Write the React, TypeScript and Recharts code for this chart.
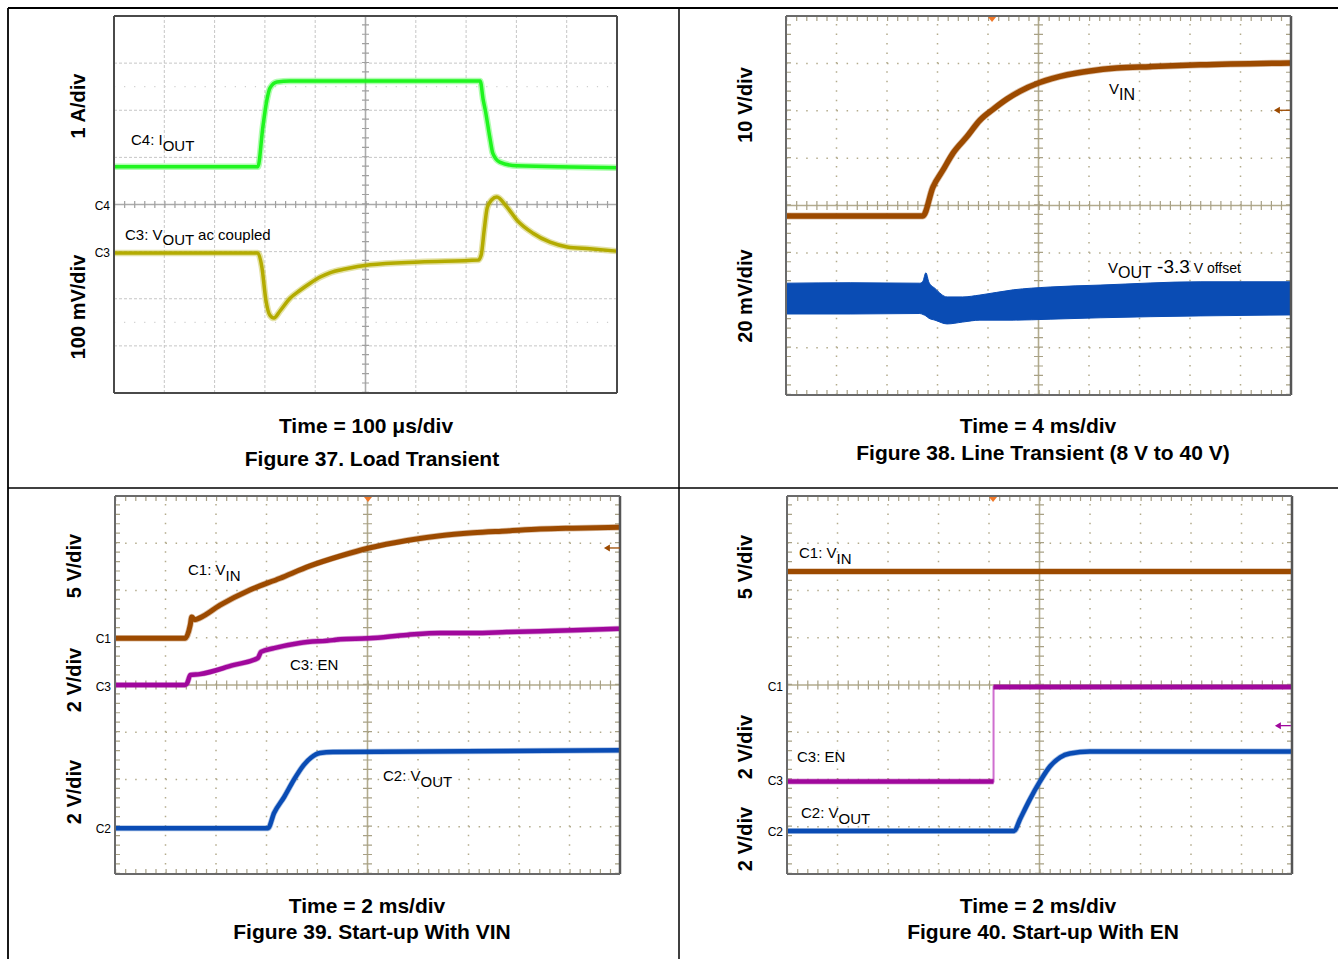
import React from 'react';
import { ComposedChart, Line, Area, XAxis, YAxis, ReferenceLine, ReferenceDot } from 'recharts';

// All traces: x in horizontal divisions (0..10), y in vertical divisions (-4..4, 0 = screen centre)

// ---------- Figure 37: Load Transient ----------
const f37IoutT = [0, 2.86, 2.96, 3.04, 3.10, 3.24, 3.50, 7.28, 7.34, 7.38, 7.48, 7.53, 7.67, 8.01, 10];
const f37IoutV = [0.80, 0.80, 1.65, 2.22, 2.47, 2.60, 2.62, 2.62, 2.22, 2.01, 1.37, 1.09, 0.90, 0.82, 0.78];
const f37VoutT = [0, 2.86, 2.94, 3.02, 3.10, 3.18, 3.30, 3.50, 3.70, 3.90, 4.10, 4.29, 4.59, 5.09, 6.08, 7.24, 7.30, 7.36, 7.42, 7.51, 7.61, 7.81, 8.01, 8.33, 8.67, 9.01, 9.46, 10];
const f37VoutV = [-1.03, -1.03, -1.33, -2.03, -2.35, -2.41, -2.26, -1.99, -1.82, -1.67, -1.54, -1.45, -1.37, -1.28, -1.22, -1.18, -1.07, -0.54, -0.07, 0.10, 0.16, -0.05, -0.33, -0.61, -0.80, -0.90, -0.94, -0.99];

// ---------- Figure 38: Line Transient ----------
const f38VinT = [0, 2.71, 2.91, 3.11, 3.31, 3.58, 3.84, 4.10, 4.38, 4.63, 5.01, 5.57, 6.02, 6.55, 7.21, 8.20, 10];
const f38VinV = [-0.22, -0.22, 0.39, 0.75, 1.11, 1.45, 1.80, 2.03, 2.25, 2.41, 2.59, 2.76, 2.84, 2.90, 2.93, 2.97, 3.01];
const f38VoutT = [0, 1.27, 2.65, 2.71, 2.77, 2.83, 2.95, 3.19, 3.50, 3.84, 4.50, 5.23, 6.22, 8.20, 10];
const f38VoutLo = [-2.29, -2.29, -2.28, -2.30, -2.33, -2.38, -2.42, -2.50, -2.46, -2.42, -2.42, -2.40, -2.37, -2.33, -2.31];
const f38VoutHi = [-1.64, -1.63, -1.64, -1.60, -1.42, -1.62, -1.75, -1.93, -1.93, -1.89, -1.78, -1.72, -1.68, -1.61, -1.61];

// ---------- Figure 39: Start-up With VIN ----------
const f39VinT = [0, 1.39, 1.49, 1.52, 1.58, 1.68, 2.08, 2.67, 3.27, 3.86, 4.46, 5.03, 5.78, 6.44, 7.09, 7.76, 8.42, 9.07, 10];
const f39VinV = [0.99, 0.99, 1.27, 1.44, 1.38, 1.42, 1.69, 2.01, 2.26, 2.52, 2.73, 2.90, 3.06, 3.16, 3.22, 3.26, 3.30, 3.32, 3.34];
const f39EnT = [0, 1.39, 1.43, 1.49, 1.68, 2.34, 2.83, 2.89, 3.15, 3.66, 4.32, 4.46, 5.03, 5.78, 6.44, 7.09, 7.76, 8.42, 9.07, 10];
const f39EnV = [0.00, 0.00, 0.04, 0.21, 0.23, 0.42, 0.57, 0.70, 0.78, 0.89, 0.95, 0.97, 0.99, 1.06, 1.10, 1.10, 1.12, 1.14, 1.16, 1.19];
const f39VoutT = [0, 3.03, 3.15, 3.35, 3.54, 3.74, 3.88, 4.06, 4.32, 10];
const f39VoutV = [-3.03, -3.03, -2.71, -2.37, -2.01, -1.69, -1.54, -1.44, -1.42, -1.38];

// ---------- Figure 40: Start-up With EN ----------
const f40VinT = [0, 10];
const f40VinV = [2.40, 2.40];
const f40EnT = [0, 4.09, 4.09, 10];
const f40EnV = [-2.04, -2.04, -0.04, -0.04];
const f40VoutT = [0, 4.50, 4.61, 4.81, 5.01, 5.21, 5.41, 5.60, 6.00, 10];
const f40VoutV = [-3.09, -3.09, -2.85, -2.42, -2.04, -1.72, -1.53, -1.45, -1.41, -1.41];

// ---------- colours ----------
const GREEN = '#1ff51f';
const OLIVE = '#b3ab00';
const BROWN = '#9c4a00';
const BLUE = '#0a4cb4';
const PURPLE = '#a0089c';
const PURPLE_LIGHT = '#cf6fcf';
const ORANGE = '#f07828';

type Pt = { t: number; v: number };
const zip = (t: number[], v: number[]): Pt[] => t.map((x, i) => ({ t: x, v: v[i] }));
const zipBand = (t: number[], lo: number[], hi: number[]) => t.map((x, i) => ({ t: x, band: [lo[i], hi[i]] }));
const splitAtVertical = (pts: Pt[]): Pt[][] => {
  const out: Pt[][] = [[]];
  pts.forEach((p, i) => {
    if (i > 0 && p.t === pts[i - 1].t) out.push([]);
    out[out.length - 1].push(p);
  });
  return out;
};

const PAD = 10;
const FONT = '"Liberation Sans", Arial, Helvetica, sans-serif';

function scopeFrame(w: number, h: number, tek: boolean) {
  const pxX = w / 10, pxY = h / 8;
  const dx = (p: number) => p / pxX;
  const dy = (p: number) => p / pxY;
  const gridColor = tek ? '#b3ab8c' : '#c6c6c6';
  const axisColor = tek ? '#b2ab8e' : '#ababab';
  const tickColor = tek ? '#a8a185' : '#a0a0a0';
  const divX = [1, 2, 3, 4, 6, 7, 8, 9];
  const divY = [-3, -2, -1, 1, 2, 3];
  const els: React.ReactNode[] = [];
  divX.forEach((x) =>
    els.push(<ReferenceLine key={'gx' + x} x={x} stroke={gridColor} strokeWidth={tek ? 1.5 : 1}
      strokeDasharray={tek ? `1.5 ${pxY / 5 - 1.5}` : '3 2'} />)
  );
  divY.forEach((y) =>
    els.push(<ReferenceLine key={'gy' + y} y={y} stroke={gridColor} strokeWidth={tek ? 1.5 : 1}
      strokeDasharray={tek ? `1.5 ${pxX / 5 - 1.5}` : '3 2'} />)
  );
  if (!tek) {
    [-2.5, 2.5].forEach((y) =>
      els.push(<ReferenceLine key={'q' + y} y={y} stroke="#cfcfcf" strokeWidth={1.2} strokeDasharray={`1.2 ${pxX / 5 - 1.2}`} />)
    );
  }
  els.push(<ReferenceLine key="cx" x={5} stroke={axisColor} strokeWidth={1.6} />);
  els.push(<ReferenceLine key="cy" y={0} stroke={axisColor} strokeWidth={1.6} />);
  const tl = tek ? 9 : 7;
  els.push(<ReferenceLine key="cxt" x={5} stroke={tickColor} strokeWidth={tl} strokeDasharray={`1.2 ${pxY / 5 - 1.2}`} />);
  els.push(<ReferenceLine key="cyt" y={0} stroke={tickColor} strokeWidth={tl} strokeDasharray={`1.2 ${pxX / 5 - 1.2}`} />);
  if (tek) {
    els.push(<ReferenceLine key="bt" y={4 - dy(2.5)} stroke={tickColor} strokeWidth={5} strokeDasharray={`1.2 ${pxX / 5 - 1.2}`} />);
    els.push(<ReferenceLine key="bb" y={-4 + dy(2.5)} stroke={tickColor} strokeWidth={5} strokeDasharray={`1.2 ${pxX / 5 - 1.2}`} />);
    els.push(<ReferenceLine key="bl" x={dx(2.5)} stroke={tickColor} strokeWidth={5} strokeDasharray={`1.2 ${pxY / 5 - 1.2}`} />);
    els.push(<ReferenceLine key="br" x={10 - dx(2.5)} stroke={tickColor} strokeWidth={5} strokeDasharray={`1.2 ${pxY / 5 - 1.2}`} />);
  }
  return els;
}

function borderLines(tek: boolean) {
  const c = tek ? '#6a6a6a' : '#4a4a4a';
  return [
    <ReferenceLine key="b1" x={0} stroke={c} strokeWidth={2} />,
    <ReferenceLine key="b2" x={10} stroke={tek ? '#555' : c} strokeWidth={tek ? 2.5 : 2} />,
    <ReferenceLine key="b3" y={4} stroke={c} strokeWidth={2} />,
    <ReferenceLine key="b4" y={-4} stroke={c} strokeWidth={2} />,
  ];
}

type ScopeProps = { left: number; top: number; w: number; h: number; tek: boolean; children?: React.ReactNode; extras?: React.ReactNode[] };

function Scope({ left, top, w, h, tek, children, extras }: ScopeProps) {
  const box: React.CSSProperties = { position: 'absolute', left: left - PAD, top: top - PAD };
  const axes = [
    <XAxis key="x" type="number" dataKey="t" domain={[0, 10]} hide allowDataOverflow />,
    <YAxis key="y" type="number" domain={[-4, 4]} hide allowDataOverflow />,
  ];
  const m = { top: PAD, right: PAD, bottom: PAD, left: PAD };
  return (
    <>
      <div style={box}>
        <ComposedChart width={w + 2 * PAD} height={h + 2 * PAD} margin={m}>
          {axes}
          {scopeFrame(w, h, tek)}
        </ComposedChart>
      </div>
      <div style={box}>
        <ComposedChart width={w + 2 * PAD} height={h + 2 * PAD} margin={m}>
          {axes}
          {children}
          {borderLines(tek)}
          {extras}
        </ComposedChart>
      </div>
    </>
  );
}

const trace = (key: string, data: Pt[], color: string, width: number, fuzz = 0, curve: any = 'monotone') => [
  fuzz > 0 ? (
    <Line key={key + 'f'} data={data} dataKey="v" type={curve} stroke={color} strokeOpacity={0.35}
      strokeWidth={width + fuzz} dot={false} activeDot={false} isAnimationActive={false} strokeLinejoin="round" />
  ) : null,
  <Line key={key} data={data} dataKey="v" type={curve} stroke={color} strokeWidth={width}
    dot={false} activeDot={false} isAnimationActive={false} strokeLinejoin="round" />,
];

const trigShape = (p: any) => (
  <path d={`M${p.cx - 4},${p.cy + 1} L${p.cx + 4},${p.cy + 1} L${p.cx},${p.cy + 6} Z`} fill={ORANGE} />
);
const arrowShape = (color: string) => (p: any) => (
  <g>
    <path d={`M${p.cx - 5},${p.cy} L${p.cx + 1},${p.cy - 3.5} L${p.cx + 1},${p.cy + 3.5} Z`} fill={color} />
    <line x1={p.cx} y1={p.cy} x2={p.cx + 11} y2={p.cy} stroke={color} strokeWidth={1.3} />
  </g>
);

function Txt({ x, y, size = 15, bold = false, anchor = 'start', children }: any) {
  return (
    <text x={x} y={y} fontSize={size} fontWeight={bold ? 'bold' : 'normal'} textAnchor={anchor} fontFamily={FONT} fill="#000">
      {children}
    </text>
  );
}
function VTxt({ x, y, children }: any) {
  return (
    <text transform={`translate(${x},${y}) rotate(-90)`} fontSize={20} fontWeight="bold" textAnchor="middle"
      dominantBaseline="central" fontFamily={FONT} fill="#000">
      {children}
    </text>
  );
}

export default function App() {
  const f40En = zip(f40EnT, f40EnV);
  return (
    <div style={{ position: 'absolute', left: 0, top: 0, width: 1338, height: 959, background: '#fff' }}>
      {/* Figure 37 */}
      <Scope left={114} top={16} w={503} h={377} tek={false}>
        {trace('io', zip(f37IoutT, f37IoutV), GREEN, 3.5, 3)}
        {trace('vo', zip(f37VoutT, f37VoutV), OLIVE, 3.5, 3)}
      </Scope>

      {/* Figure 38 */}
      <Scope left={786} top={16} w={505} h={379} tek={true}
        extras={[
          <ReferenceDot key="trg" x={4.08} y={4} r={0} shape={trigShape} />,
          <ReferenceDot key="lvl" x={9.76} y={2.01} r={0} shape={arrowShape(BROWN)} />,
        ]}>
        <Area key="band" data={zipBand(f38VoutT, f38VoutLo, f38VoutHi)} dataKey="band" type="monotone"
          stroke={BLUE} strokeWidth={1} fill={BLUE} fillOpacity={1} dot={false} activeDot={false} isAnimationActive={false} />
        {trace('vin', zip(f38VinT, f38VinV), BROWN, 5.5, 1.5)}
      </Scope>

      {/* Figure 39 */}
      <Scope left={115} top={496} w={505} h={378} tek={true}
        extras={[
          <ReferenceDot key="trg" x={5.01} y={4} r={0} shape={trigShape} />,
          <ReferenceDot key="lvl" x={9.78} y={2.9} r={0} shape={arrowShape(BROWN)} />,
        ]}>
        {trace('vin', zip(f39VinT, f39VinV), BROWN, 5, 1.5)}
        {trace('en', zip(f39EnT, f39EnV), PURPLE, 4.5, 1.5)}
        {trace('vout', zip(f39VoutT, f39VoutV), BLUE, 4.5, 1.5)}
      </Scope>

      {/* Figure 40 */}
      <Scope left={787} top={496} w={505} h={378} tek={true}
        extras={[
          <ReferenceDot key="trg" x={4.08} y={4} r={0} shape={trigShape} />,
          <ReferenceDot key="lvl" x={9.76} y={-0.86} r={0} shape={arrowShape(PURPLE)} />,
        ]}>
        {trace('vin', zip(f40VinT, f40VinV), BROWN, 5.5, 0, 'linear')}
        <Line key="enThin" data={f40En} dataKey="v" type="linear" stroke={PURPLE_LIGHT} strokeWidth={2}
          dot={false} activeDot={false} isAnimationActive={false} />
        {splitAtVertical(f40En).map((seg, i) => trace('en' + i, seg, PURPLE, 4.5, 1.5, 'linear'))}
        {trace('vout', zip(f40VoutT, f40VoutV), BLUE, 4.5, 1.5)}
      </Scope>

      {/* frame + text overlay */}
      <svg width={1338} height={959} style={{ position: 'absolute', left: 0, top: 0, pointerEvents: 'none' }}>
        <line x1={8} y1={8} x2={1338} y2={8} stroke="#000" strokeWidth={1.8} />
        <line x1={8} y1={8} x2={8} y2={959} stroke="#000" strokeWidth={1.8} />
        <line x1={679} y1={8} x2={679} y2={959} stroke="#000" strokeWidth={1.5} />
        <line x1={8} y1={488} x2={1338} y2={488} stroke="#000" strokeWidth={1.5} />

        {/* Fig 37 */}
        <VTxt x={78} y={106}>1 A/div</VTxt>
        <VTxt x={78} y={307}>100 mV/div</VTxt>
        <Txt x={110} y={210} size={12} anchor="end">C4</Txt>
        <Txt x={110} y={257} size={12} anchor="end">C3</Txt>
        <Txt x={131} y={145}>C4: I<tspan dy={6}>OUT</tspan></Txt>
        <Txt x={125} y={240}>C3: V<tspan dy={5}>OUT</tspan><tspan dy={-5}> ac coupled</tspan></Txt>
        <Txt x={366} y={433} size={21} bold anchor="middle">Time = 100 μs/div</Txt>
        <Txt x={372} y={466} size={21} bold anchor="middle">Figure 37. Load Transient</Txt>

        {/* Fig 38 */}
        <VTxt x={745} y={105}>10 V/div</VTxt>
        <VTxt x={745} y={296}>20 mV/div</VTxt>
        <Txt x={1109} y={94} size={15}>V<tspan dy={6} fontSize={16}>IN</tspan></Txt>
        <Txt x={1108} y={273} size={15}>V<tspan dy={5} fontSize={16}>OUT</tspan><tspan dy={-5} fontSize={19}> -3.3</tspan><tspan fontSize={14}> V offset</tspan></Txt>
        <Txt x={1038} y={433} size={21} bold anchor="middle">Time = 4 ms/div</Txt>
        <Txt x={1043} y={460} size={21} bold anchor="middle">Figure 38. Line Transient (8 V to 40 V)</Txt>

        {/* Fig 39 */}
        <VTxt x={74} y={566}>5 V/div</VTxt>
        <VTxt x={74} y={680}>2 V/div</VTxt>
        <VTxt x={74} y={792}>2 V/div</VTxt>
        <Txt x={111} y={643} size={12} anchor="end">C1</Txt>
        <Txt x={111} y={691} size={12} anchor="end">C3</Txt>
        <Txt x={111} y={833} size={12} anchor="end">C2</Txt>
        <Txt x={188} y={575}>C1: V<tspan dy={6}>IN</tspan></Txt>
        <Txt x={290} y={670}>C3: EN</Txt>
        <Txt x={383} y={781}>C2: V<tspan dy={6}>OUT</tspan></Txt>
        <Txt x={367} y={913} size={21} bold anchor="middle">Time = 2 ms/div</Txt>
        <Txt x={372} y={939} size={21} bold anchor="middle">Figure 39. Start-up With VIN</Txt>

        {/* Fig 40 */}
        <VTxt x={745} y={567}>5 V/div</VTxt>
        <VTxt x={745} y={747}>2 V/div</VTxt>
        <VTxt x={745} y={839}>2 V/div</VTxt>
        <Txt x={783} y={691} size={12} anchor="end">C1</Txt>
        <Txt x={783} y={785} size={12} anchor="end">C3</Txt>
        <Txt x={783} y={836} size={12} anchor="end">C2</Txt>
        <Txt x={799} y={558}>C1: V<tspan dy={6}>IN</tspan></Txt>
        <Txt x={797} y={762}>C3: EN</Txt>
        <Txt x={801} y={818}>C2: V<tspan dy={6}>OUT</tspan></Txt>
        <Txt x={1038} y={913} size={21} bold anchor="middle">Time = 2 ms/div</Txt>
        <Txt x={1043} y={939} size={21} bold anchor="middle">Figure 40. Start-up With EN</Txt>
      </svg>
    </div>
  );
}
